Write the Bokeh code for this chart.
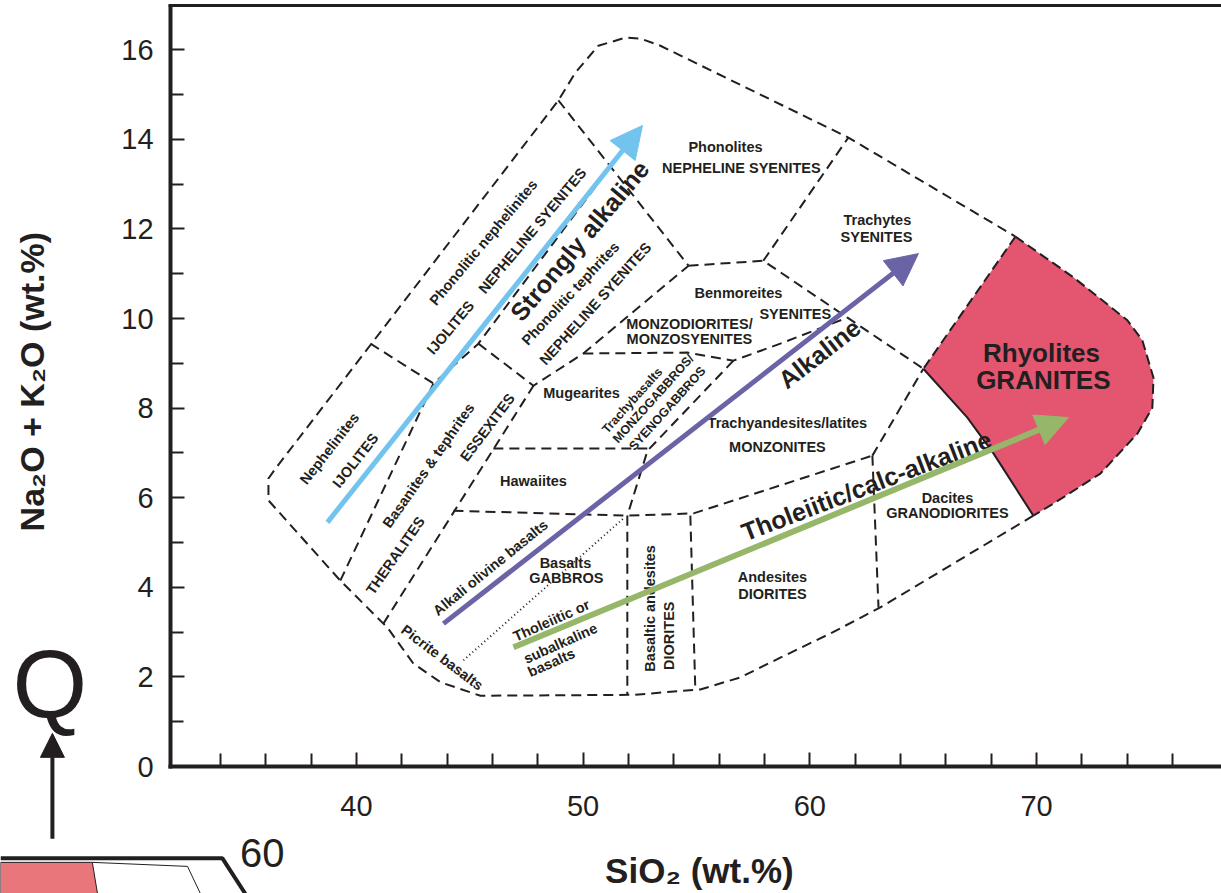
from bokeh.plotting import figure
from bokeh.models import ColumnDataSource, FixedTicker, Arrow, NormalHead, LinearAxis, Range1d
from bokeh.core.properties import value
from bokeh.embed import file_html
from bokeh.resources import INLINE

INK = "#231f20"
FONT = "Liberation Sans"

# ---------------- axes ----------------
x_ticks = [40, 50, 60, 70]
x_minor_ticks = [34, 36, 38, 42, 44, 46, 48, 52, 54, 56, 58, 62, 64, 66, 68, 72, 74, 76]
y_ticks = [0, 2, 4, 6, 8, 10, 12, 14, 16]
y_minor_ticks = [1, 3, 5, 7, 9, 11, 13, 15]
x_axis_span = [31.8, 78.16]
y_axis_span = [0.0, 16.99]

# ---------------- field boundaries (SiO2, Na2O+K2O) ----------------
outer_si = [69.86, 63.11, 60.91, 58.70, 56.94, 55.17, 52.22, 45.47, 43.71, 42.51, 41.37, 41.19,
            39.29, 36.12, 36.12, 36.43, 48.91, 49.66, 50.67, 51.87, 52.53, 53.41, 61.70, 69.07]
outer_alk = [5.60, 3.55, 2.97, 2.43, 1.99, 1.72, 1.60, 1.58, 1.88, 2.30, 3.10, 3.19,
             4.15, 5.94, 6.43, 6.65, 14.87, 15.49, 16.09, 16.27, 16.25, 16.09, 14.04, 11.83]

nep_top_si, nep_top_alk = [40.62, 43.40], [9.44, 8.55]
line_a_si, line_a_alk = [39.29, 43.40, 45.38, 51.20], [4.15, 8.55, 9.44, 13.39]
v_line_si, v_line_alk = [45.38, 47.81, 50.01], [9.44, 8.50, 9.22]
line_c_si, line_c_alk = [41.19, 47.81], [3.19, 8.50]
phon_si, phon_alk = [48.91, 54.65], [14.87, 11.18]
pt_benm_si, pt_benm_alk = [50.01, 54.65], [9.22, 11.18]
benm_top_si, benm_top_alk = [54.65, 57.95, 61.66, 65.01], [11.18, 11.29, 10.02, 8.88]
trach_phon_si, trach_phon_alk = [57.95, 61.70], [11.29, 14.04]
monzo_si, monzo_alk = [50.01, 54.61, 56.63, 58.70, 61.66], [9.22, 9.24, 9.06, 9.44, 10.02]
tb_si, tb_alk = [56.63, 52.84, 51.95], [9.06, 7.05, 5.60]
haw_top_si, haw_top_alk = [46.04, 52.84], [7.10, 7.10]
haw_bot_si, haw_bot_alk = [44.28, 51.95, 54.87, 62.76], [5.71, 5.60, 5.65, 6.94]
ba_left_si, ba_left_alk = [51.95, 51.95], [5.60, 1.60]
ba_right_si, ba_right_alk = [54.73, 54.95], [5.60, 1.70]
and_dac_si, and_dac_alk = [62.76, 63.03], [6.94, 3.55]
ta_dac_si, ta_dac_alk = [62.76, 65.01], [6.94, 8.88]
dotted_si, dotted_alk = [44.72, 51.78], [2.37, 5.54]

rhy_si = [69.07, 71.63, 74.01, 74.67, 75.16, 75.11, 74.45, 72.82, 70.75, 69.86, 68.10, 66.95, 65.01]
rhy_alk = [11.83, 10.92, 9.96, 9.51, 8.68, 8.01, 7.43, 6.54, 5.87, 5.60, 6.99, 7.79, 8.88]

# ---------------- trend arrows ----------------
blue_si, blue_alk = [38.72, 52.62], [5.45, 14.31]
purple_si, purple_alk = [43.84, 64.79], [3.19, 11.45]
green_si, green_alk = [46.93, 71.41], [2.66, 7.79]

# ---------------- field labels ----------------
label_text = ["Nephelinites", "IJOLITES", "Phonolitic nephelinites", "IJOLITES", "NEPHELINE SYENITES",
              "Phonolitic tephrites", "NEPHELINE SYENITES", "Phonolites", "NEPHELINE SYENITES",
              "Trachytes", "SYENITES", "Benmoreites", "SYENITES", "MONZODIORITES/", "MONZOSYENITES",
              "Mugearites", "Trachybasalts", "MONZOGABBROS/", "SYENOGABBROS",
              "Trachyandesites/latites", "MONZONITES", "Hawaiites", "Basanites & tephrites",
              "THERALITES", "ESSEXITES", "Alkali olivine basalts", "Picrite basalts", "Basalts",
              "GABBROS", "Tholeiitic or", "subalkaline", "basalts", "Basaltic andesites", "DIORITES",
              "Andesites", "DIORITES", "Dacites", "GRANODIORITES"]
label_si = [38.81, 39.96, 45.60, 44.15, 47.76, 49.44, 50.54, 56.28, 56.98, 62.98, 62.94, 56.85,
            59.36, 54.69, 54.69, 49.93, 52.17, 53.10, 53.72, 59.01, 58.57, 47.81, 43.18, 41.72,
            45.78, 45.91, 43.79, 49.22, 49.26, 48.60, 49.00, 48.60, 52.97, 53.81, 58.35, 58.35,
            66.07, 66.07]
label_alk = [7.10, 6.83, 11.70, 9.80, 11.96, 10.56, 10.33, 13.82, 13.35, 12.19, 11.81, 10.56,
             10.11, 9.87, 9.55, 8.33, 8.17, 8.21, 7.99, 7.66, 7.14, 6.38, 6.72, 4.71, 7.57, 4.44,
             2.43, 4.55, 4.20, 3.26, 2.75, 2.32, 3.53, 2.92, 4.22, 3.84, 6.00, 5.65]
label_angle = [52, 52, 50, 50, 50, 47, 48, 0, 0, 0, 0, 0, 0, 0, 0, 0, 48, 48, 48, 0, 0, 0, 55, 55,
               53, 39, -37, 0, 0, 24, 24, 24, 90, 90, 0, 0, 0, 0]
label_size = ["14.5px"] * 16 + ["12.5px"] * 3 + ["14.5px"] * 19

big_text = ["Rhyolites", "GRANITES", "Strongly alkaline", "Alkaline", "Tholeiitic/calc-alkaline"]
big_si = [70.22, 70.30, 49.84, 60.42, 62.50]
big_alk = [9.24, 8.62, 11.74, 9.22, 6.27]
big_angle = [0, 0, 50, 38, 21]
big_size = ["26px", "26px", "25px", "25px", "25px"]

# axis titles
ytitle_text, ytitle_si, ytitle_alk = "Na\u2082O + K\u2082O (wt.%)", 25.71, 8.59
xtitle_text, xtitle_si, xtitle_alk = "SiO\u2082 (wt.%)", 55.13, -2.32

# ---------------- fragment of the adjoining figure (lower left) ----------------
q_si, q_alk = 26.48, 1.83
q_arrow_si, q_arrow_alk = [26.59, 26.59], [-1.61, 0.74]
frag_pink_si, frag_pink_alk = [24.30, 28.35, 28.58, 24.30], [-2.14, -2.14, -2.84, -2.84]
frag_thick_si, frag_thick_alk = [24.30, 34.09, 35.10], [-2.05, -2.05, -2.84]
frag_thin_si, frag_thin_alk = [28.35, 32.55, 33.12], [-2.14, -2.23, -2.84]
frag_sixty_si, frag_sixty_alk = 35.85, -1.92

# ---------------- figure ----------------
p = figure(width=1221, height=893, x_range=Range1d(24.30, 78.16), y_range=Range1d(-2.835, 17.10),
           output_backend="svg", toolbar_location=None, title=None,
           min_border_left=0, min_border_right=0, min_border_top=0, min_border_bottom=0)
p.outline_line_color = None
p.grid.visible = False
p.background_fill_color = "white"
p.border_fill_color = "white"

p.xaxis.ticker = FixedTicker(ticks=x_ticks, minor_ticks=x_minor_ticks)
p.yaxis.ticker = FixedTicker(ticks=y_ticks, minor_ticks=y_minor_ticks)
p.xaxis.fixed_location = y_axis_span[0]
p.yaxis.fixed_location = x_axis_span[0]
p.xaxis.bounds = (x_axis_span[0] - 0.09, x_axis_span[1])
p.yaxis.bounds = (y_axis_span[0] - 0.04, y_axis_span[1])
for ax in (p.xaxis[0], p.yaxis[0]):
    ax.axis_line_width = 4
    ax.axis_line_color = INK
    ax.major_tick_in = 14
    ax.major_tick_out = 0
    ax.minor_tick_in = 13
    ax.minor_tick_out = 0
    ax.major_tick_line_width = 2
    ax.minor_tick_line_width = 2
    ax.major_tick_line_color = INK
    ax.minor_tick_line_color = INK
    ax.major_label_text_font = FONT
    ax.major_label_text_font_size = "29px"
    ax.major_label_text_color = INK
p.xaxis.major_label_standoff = 29
p.yaxis.major_label_standoff = 17

top = LinearAxis(ticker=FixedTicker(ticks=[]), axis_line_width=3, axis_line_color=INK,
                 major_tick_out=0, major_tick_in=0, minor_tick_out=0, minor_tick_in=0,
                 fixed_location=y_axis_span[1], bounds=(x_axis_span[0] - 0.09, x_axis_span[1]))
p.add_layout(top, "above")

# rhyolite field
p.patch(rhy_si, rhy_alk, fill_color="#e4556f", line_color=None)
p.line(rhy_si[:10], rhy_alk[:10], line_color=INK, line_width=2, line_dash="10 5")
p.line(rhy_si[:1] + rhy_si[12:], rhy_alk[:1] + rhy_alk[12:], line_color=INK, line_width=2, line_dash="10 5")
p.line(rhy_si[9:], rhy_alk[9:], line_color=INK, line_width=2)

# dashed boundaries
seg_si = [outer_si, nep_top_si, line_a_si, v_line_si, line_c_si, phon_si, pt_benm_si,
          benm_top_si, trach_phon_si, monzo_si, tb_si, haw_top_si, haw_bot_si, ba_left_si,
          ba_right_si, and_dac_si, ta_dac_si]
seg_alk = [outer_alk, nep_top_alk, line_a_alk, v_line_alk, line_c_alk, phon_alk,
           pt_benm_alk, benm_top_alk, trach_phon_alk, monzo_alk, tb_alk, haw_top_alk, haw_bot_alk,
           ba_left_alk, ba_right_alk, and_dac_alk, ta_dac_alk]
p.multi_line(seg_si, seg_alk, line_color=INK, line_width=2, line_dash="10 6")
p.line(dotted_si, dotted_alk, line_color=INK, line_width=2, line_dash="1 3")

# labels
src = ColumnDataSource(dict(x=label_si, y=label_alk, text=label_text, angle=label_angle, size=label_size))
p.text("x", "y", text="text", angle="angle", angle_units="deg", text_font_size="size",
       text_font=value(FONT), text_font_style="bold", text_color=INK,
       text_align="center", text_baseline="middle", source=src)

# trend arrows
for xs, ys, col, w in ((blue_si, blue_alk, "#72c4ee", 5), (purple_si, purple_alk, "#6a64a7", 5),
                       (green_si, green_alk, "#96b66a", 6)):
    p.add_layout(Arrow(x_start=xs[0], y_start=ys[0], x_end=xs[1], y_end=ys[1],
                       line_color=col, line_width=w,
                       end=NormalHead(size=32, fill_color=col, line_color=col)))

bsrc = ColumnDataSource(dict(x=big_si, y=big_alk, text=big_text, angle=big_angle, size=big_size))
p.text("x", "y", text="text", angle="angle", angle_units="deg", text_font_size="size",
       text_font=value(FONT), text_font_style="bold", text_color=INK,
       text_align="center", text_baseline="middle", source=bsrc)

# axis titles
p.text([ytitle_si], [ytitle_alk], text=[ytitle_text], angle=90, angle_units="deg",
       text_font=value(FONT), text_font_style="bold", text_font_size="34px", text_color=INK,
       text_align="center", text_baseline="middle")
p.text([xtitle_si], [xtitle_alk], text=[xtitle_text],
       text_font=value(FONT), text_font_style="bold", text_font_size="35px", text_color=INK,
       text_align="center", text_baseline="middle")

# fragment of the adjoining figure
p.patch(frag_pink_si, frag_pink_alk, fill_color="#e8767a", line_color=INK, line_width=1)
p.line(frag_thin_si, frag_thin_alk, line_color=INK, line_width=1)
p.line(frag_thick_si, frag_thick_alk, line_color=INK, line_width=4)
p.text([q_si], [q_alk], text=["Q"], text_font=value(FONT), text_font_size="96px",
       text_color=INK, text_align="center", text_baseline="middle")
p.add_layout(Arrow(x_start=q_arrow_si[0], y_start=q_arrow_alk[0], x_end=q_arrow_si[1],
                   y_end=q_arrow_alk[1], line_color=INK, line_width=4,
                   end=NormalHead(size=24, fill_color=INK, line_color=INK)))
p.text([frag_sixty_si], [frag_sixty_alk], text=["60"], text_font=value(FONT),
       text_font_size="40px", text_color=INK, text_align="center", text_baseline="middle")

open("out.html", "w").write(file_html(p, INLINE))
